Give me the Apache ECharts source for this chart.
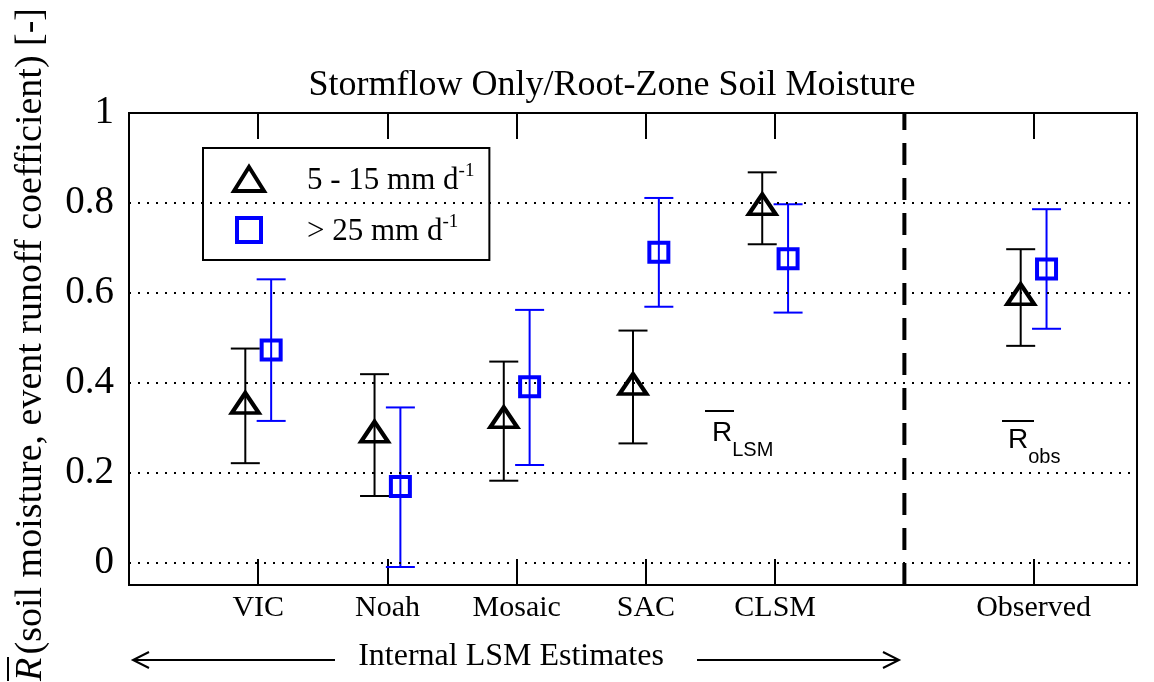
<!DOCTYPE html>
<html>
<head>
<meta charset="utf-8">
<script src="https://cdn.jsdelivr.net/npm/echarts@6/dist/echarts.min.js"></script>
<style>html,body{margin:0;padding:0;background:#fff;}#main{width:1154px;height:682px;}</style>
</head>
<body>
<div id="main"></div>
<script>
// ---- data ----
var categories = ['VIC', 'Noah', 'Mosaic', 'SAC', 'CLSM', 'Observed'];
var catPositions = [1, 2, 3, 4, 5, 7];
var separatorX = 6;
var yTicks = [0, 0.2, 0.4, 0.6, 0.8, 1];
var gridLineValues = [0, 0.2, 0.4, 0.6, 0.8];
// 5 - 15 mm d-1 (black triangles)
var lowMean = [0.355, 0.291, 0.323, 0.397, 0.797, 0.597];
var lowLo   = [0.221, 0.148, 0.182, 0.265, 0.708, 0.482];
var lowHi   = [0.476, 0.419, 0.447, 0.516, 0.868, 0.697];
// > 25 mm d-1 (blue squares)
var highMean = [0.473, 0.169, 0.391, 0.690, 0.676, 0.653];
var highLo   = [0.315, -0.010, 0.217, 0.569, 0.556, 0.520];
var highHi   = [0.630, 0.345, 0.562, 0.811, 0.797, 0.786];
var groupOffset = 0.1;

var SERIF = '"Liberation Serif", "Times New Roman", serif';
var SANS = '"Liberation Sans", Arial, sans-serif';
var SQUARE = 'path://M0,0H10V10H0Z';

function pts(mean, offset) {
  return mean.map(function (v, i) { return [catPositions[i] + offset, v]; });
}
function bars(lo, hi, offset) {
  return lo.map(function (v, i) { return [catPositions[i] + offset, v, hi[i]]; });
}
function errRender(color) {
  return function (params, api) {
    var x = api.value(0);
    var p1 = api.coord([x, api.value(1)]);
    var p2 = api.coord([x, api.value(2)]);
    var hw = 14.5;
    var st = { stroke: color, lineWidth: 2, fill: null };
    return {
      type: 'group',
      children: [
        { type: 'line', shape: { x1: p1[0], y1: p1[1], x2: p2[0], y2: p2[1] }, style: st },
        { type: 'line', shape: { x1: p1[0] - hw, y1: p1[1], x2: p1[0] + hw, y2: p1[1] }, style: st },
        { type: 'line', shape: { x1: p2[0] - hw, y1: p2[1], x2: p2[0] + hw, y2: p2[1] }, style: st }
      ]
    };
  };
}

var chart = echarts.init(document.getElementById('main'), null, { renderer: 'canvas' });
var labelMap = {};
catPositions.forEach(function (p, i) { labelMap[p] = categories[i]; });

var option = {
  backgroundColor: '#fff',
  animation: false,
  title: {
    text: 'Stormflow Only/Root-Zone Soil Moisture',
    left: 612, top: 68, textAlign: 'center', padding: 0,
    textStyle: { fontFamily: SERIF, fontSize: 36, fontWeight: 'normal', color: '#000' }
  },
  grid: { left: 129, right: 17, top: 113, bottom: 97, containLabel: false, outerBoundsMode: 'none',
          show: true, borderColor: '#000', borderWidth: 2, backgroundColor: 'transparent' },
  legend: {
    left: 203, top: 148, orient: 'vertical',
    padding: [14, 15, 12, 29],
    itemGap: 16,
    itemWidth: 30, itemHeight: 24,
    backgroundColor: '#fff',
    borderColor: '#000', borderWidth: 2, borderRadius: 0,
    itemStyle: { borderWidth: 4 },
    data: [
      { name: '5 - 15 mm d-1' },
      { name: '> 25 mm d-1' }
    ],
    formatter: function (name) {
      return name === '5 - 15 mm d-1' ? '{a|5 - 15 mm d}{s|-1}' : '{a|> 25 mm d}{s|-1}';
    },
    textStyle: {
      padding: [0, 0, 0, 38],
      rich: {
        a: { fontFamily: SERIF, fontSize: 31, color: '#000', verticalAlign: 'bottom', lineHeight: 34 },
        s: { fontFamily: SERIF, fontSize: 19, color: '#000', verticalAlign: 'top', lineHeight: 34, padding: [0, 0, 16, 0] }
      }
    }
  },
  xAxis: [{
    type: 'value', min: 0, max: 7.8, position: 'bottom',
    axisLine: { show: true, onZero: false, lineStyle: { color: '#000', width: 2 } },
    axisTick: { show: true, inside: true, length: 26, customValues: catPositions, lineStyle: { color: '#000', width: 2 } },
    axisLabel: { show: true, customValues: catPositions, margin: 8,
      formatter: function (v) { return labelMap[v] || ''; },
      fontFamily: SERIF, fontSize: 30, color: '#000' },
    splitLine: { show: false }
  }, {
    type: 'value', min: 0, max: 7.8, position: 'top',
    axisLine: { show: true, onZero: false, lineStyle: { color: '#000', width: 2 } },
    axisTick: { show: true, inside: true, length: 26, customValues: catPositions, lineStyle: { color: '#000', width: 2 } },
    axisLabel: { show: false },
    splitLine: { show: false }
  }],
  yAxis: [{
    type: 'value', min: -0.05, max: 1,
    axisLine: { show: true, lineStyle: { color: '#000', width: 2 } },
    axisTick: { show: false },
    axisLabel: { customValues: yTicks, margin: 15, fontFamily: SERIF, fontSize: 39, color: '#000',
      formatter: function (v) { return String(Math.round(v * 10) / 10); } },
    splitLine: { show: false }
  }],
  graphic: [
    { type: 'text', x: 31, y: 681, rotation: Math.PI / 2,
      style: { text: '{r|R} {t|(soil moisture, event runoff coefficient) [-]}',
        align: 'left', verticalAlign: 'middle',
        rich: { r: { fontFamily: SERIF, fontStyle: 'italic', fontSize: 38, fill: '#000' },
                t: { fontFamily: SERIF, fontSize: 38, fill: '#000' } } } },
    { type: 'line', shape: { x1: 8, y1: 657, x2: 8, y2: 681 }, style: { stroke: '#000', lineWidth: 2 } },
    { type: 'text', x: 511, y: 657,
      style: { text: 'Internal LSM Estimates', fontFamily: SERIF, fontSize: 32, fill: '#000', align: 'center', verticalAlign: 'middle' } },
    { type: 'polyline', shape: { points: [[335, 660], [133, 660]] }, style: { stroke: '#000', lineWidth: 2, fill: null } },
    { type: 'polyline', shape: { points: [[149, 652], [133, 660], [149, 668]] }, style: { stroke: '#000', lineWidth: 2, fill: null } },
    { type: 'polyline', shape: { points: [[697, 660], [899, 660]] }, style: { stroke: '#000', lineWidth: 2, fill: null } },
    { type: 'polyline', shape: { points: [[883, 652], [899, 660], [883, 668]] }, style: { stroke: '#000', lineWidth: 2, fill: null } },
    // R_LSM annotation
    { type: 'line', shape: { x1: 705, y1: 411, x2: 734, y2: 411 }, style: { stroke: '#000', lineWidth: 2 } },
    { type: 'text', x: 712, y: 447,
      style: { text: '{r|R}{s|LSM}', align: 'left', verticalAlign: 'bottom',
        rich: { r: { fontFamily: SANS, fontSize: 28, fill: '#000', verticalAlign: 'bottom' },
                s: { fontFamily: SANS, fontSize: 20, fill: '#000', verticalAlign: 'bottom', padding: [0, 0, -13, 0] } } } },
    // R_obs annotation
    { type: 'line', shape: { x1: 1002, y1: 421, x2: 1034, y2: 421 }, style: { stroke: '#000', lineWidth: 2 } },
    { type: 'text', x: 1008, y: 454,
      style: { text: '{r|R}{s|obs}', align: 'left', verticalAlign: 'bottom',
        rich: { r: { fontFamily: SANS, fontSize: 28, fill: '#000', verticalAlign: 'bottom' },
                s: { fontFamily: SANS, fontSize: 20, fill: '#000', verticalAlign: 'bottom', padding: [0, 0, -13, 0] } } } }
  ],
  series: [
    { type: 'line', name: 'gridlines', data: [], silent: true,
      markLine: { silent: true, symbol: 'none', label: { show: false },
        lineStyle: { color: '#000', type: [2, 7], width: 2, opacity: 1 },
        data: gridLineValues.map(function (v) { return { yAxis: v }; }) } },
    { type: 'line', name: 'separator', silent: true, symbol: 'none',
      data: [[separatorX, -0.05], [separatorX, 1]],
      lineStyle: { color: '#000', width: 4, type: [22, 13] } },
    { type: 'custom', name: 'err1', renderItem: errRender('#000'), data: bars(lowLo, lowHi, -groupOffset), z: 3 },
    { type: 'custom', name: 'err2', renderItem: errRender('#0000ff'), data: bars(highLo, highHi, groupOffset), z: 3 },
    { type: 'scatter', name: '5 - 15 mm d-1', symbol: 'triangle', symbolSize: [27, 20],
      data: pts(lowMean, -groupOffset), z: 4,
      itemStyle: { color: 'rgba(0,0,0,0)', borderColor: '#000', borderWidth: 4, opacity: 1, borderJoin: 'miter' } },
    { type: 'scatter', name: '> 25 mm d-1', symbol: SQUARE, symbolKeepAspect: true, symbolSize: [19, 19],
      data: pts(highMean, groupOffset), z: 4,
      itemStyle: { color: 'rgba(0,0,0,0)', borderColor: '#0000ff', borderWidth: 4, opacity: 1, borderJoin: 'miter' } }
  ]
};
chart.setOption(option);
</script>
</body>
</html>
